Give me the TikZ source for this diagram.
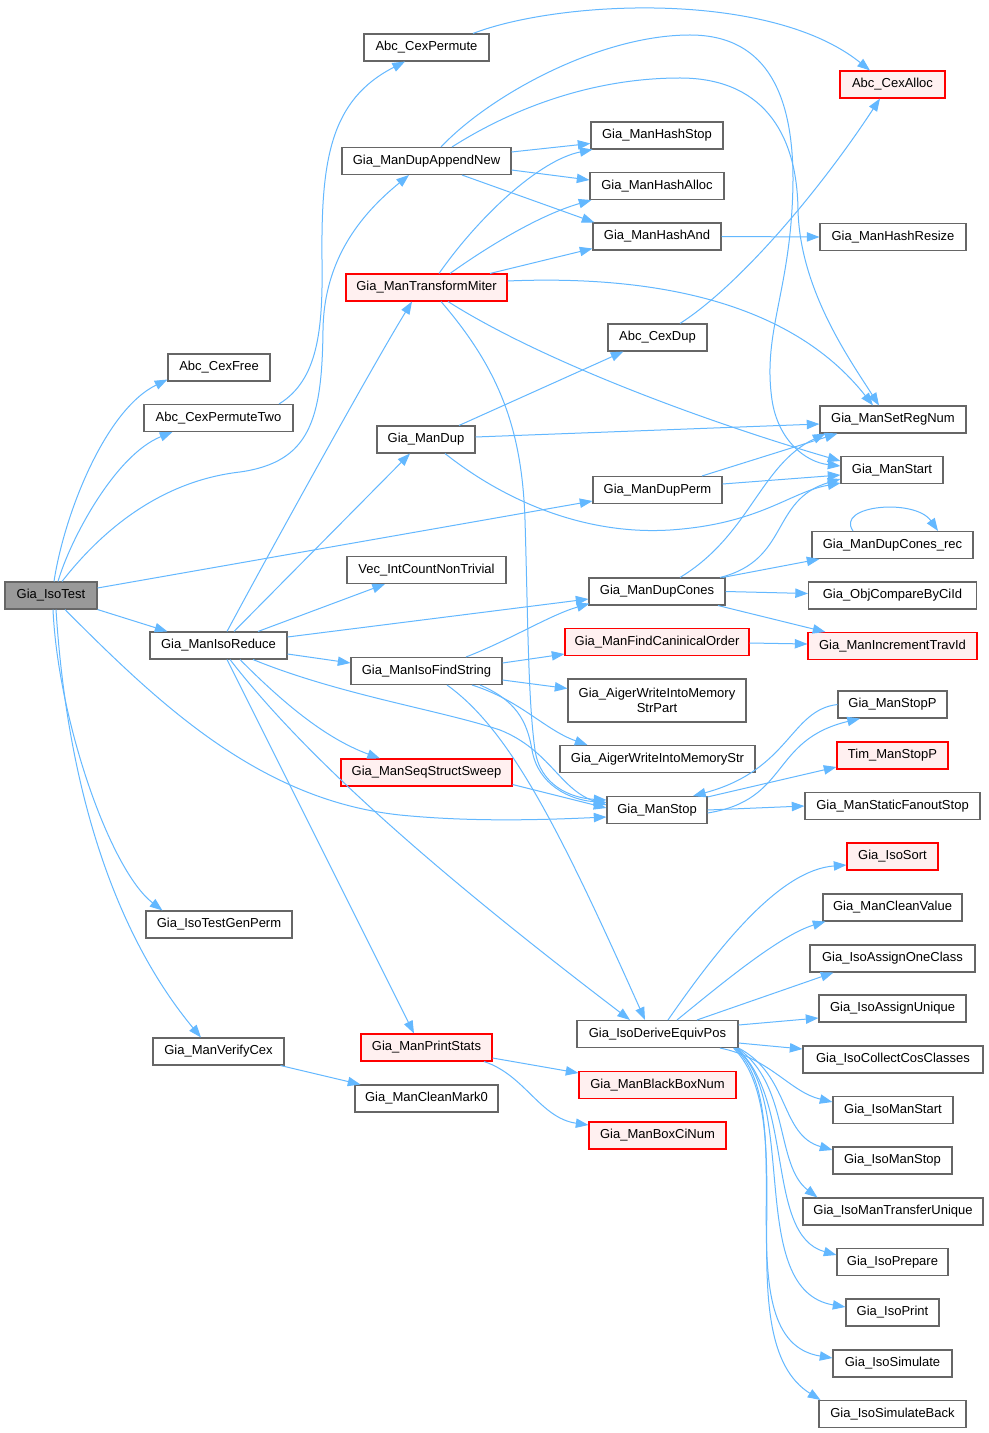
\documentclass[tikz,border=0pt]{standalone}
\usepackage{fontspec}
\setmainfont{Liberation Sans}
\usetikzlibrary{arrows.meta,calc}
\definecolor{edgeblue}{HTML}{63B8FF}
\definecolor{boxgray}{HTML}{666666}
\definecolor{boxred}{HTML}{FF0000}
\definecolor{redfill}{HTML}{FFF0F0}
\definecolor{selfill}{HTML}{999999}
\begin{document}
\begin{tikzpicture}[x=0.75pt,y=-0.75pt,
  fn/.style={draw=boxgray, line width=0.8pt, fill=white, inner sep=0pt, minimum height=27*0.75pt, font=\fontsize{9.75}{11}\selectfont, text=black, align=center},
  wd/.style={minimum width=#1*0.75pt},
  bad/.style={draw=boxred, fill=redfill},
  hl/.style={fill=selfill},
  cn/.style={draw=edgeblue, line width=0.75pt, -{Triangle[length=9.5pt,width=7pt]}}]
\fill[white] (0,0) rectangle (988,1433);
\useasboundingbox (0,0) rectangle (988,1433);
% nodes
\node[fn,wd=92,hl] (IsoTest) at (51,595.5) {Gia\_IsoTest};
\node[fn,wd=125] (CexPermute) at (426.5,47.5) {Abc\_CexPermute};
\node[fn,wd=105,bad] (CexAlloc) at (892.5,84.5) {Abc\_CexAlloc};
\node[fn,wd=169] (DupAppendNew) at (426.5,161) {Gia\_ManDupAppendNew};
\node[fn,wd=132] (HashStop) at (657,135.5) {Gia\_ManHashStop};
\node[fn,wd=134] (HashAlloc) at (657,186) {Gia\_ManHashAlloc};
\node[fn,wd=128] (HashAnd) at (657,236.5) {Gia\_ManHashAnd};
\node[fn,wd=146] (HashResize) at (893,237) {Gia\_ManHashResize};
\node[fn,wd=161,bad] (TransformMiter) at (426.5,287.5) {Gia\_ManTransformMiter};
\node[fn,wd=99] (CexDup) at (657.5,337.5) {Abc\_CexDup};
\node[fn,wd=102] (CexFree) at (219,367.5) {Abc\_CexFree};
\node[fn,wd=149] (CexPermuteTwo) at (218.5,418) {Abc\_CexPermuteTwo};
\node[fn,wd=98] (ManDup) at (426,439.5) {Gia\_ManDup};
\node[fn,wd=146] (SetRegNum) at (893,419.5) {Gia\_ManSetRegNum};
\node[fn,wd=102] (ManStart) at (892,470) {Gia\_ManStart};
\node[fn,wd=129] (DupPerm) at (657.5,490) {Gia\_ManDupPerm};
\node[fn,wd=161] (DupConesRec) at (892.5,545) {Gia\_ManDupCones\_rec};
\node[fn,wd=159] (VecInt) at (426.5,570) {Vec\_IntCountNonTrivial};
\node[fn,wd=136] (DupCones) at (657,591.5) {Gia\_ManDupCones};
\node[fn,wd=168] (ObjCompare) at (892.5,595.5) {Gia\_ObjCompareByCiId};
\node[fn,wd=137] (IsoReduce) at (218.5,645.5) {Gia\_ManIsoReduce};
\node[fn,wd=184,bad] (FindCan) at (657,642) {Gia\_ManFindCaninicalOrder};
\node[fn,wd=169,bad] (IncTrav) at (892.5,646) {Gia\_ManIncrementTravId};
\node[fn,wd=151] (IsoFindString) at (426.5,671) {Gia\_ManIsoFindString};
\node[fn,wd=178,minimum height=43*0.75pt] (AigerPart) at (657,700.5) {Gia\_AigerWriteIntoMemory\\StrPart};
\node[fn,wd=109] (StopP) at (892.5,704.5) {Gia\_ManStopP};
\node[fn,wd=195] (AigerStr) at (657.5,759) {Gia\_AigerWriteIntoMemoryStr};
\node[fn,wd=111,bad] (TimStopP) at (892.5,755.5) {Tim\_ManStopP};
\node[fn,wd=171,bad] (SeqSweep) at (426.5,772.5) {Gia\_ManSeqStructSweep};
\node[fn,wd=100] (ManStop) at (657,810) {Gia\_ManStop};
\node[fn,wd=175] (StaticFanout) at (892.5,806) {Gia\_ManStaticFanoutStop};
\node[fn,wd=91,bad] (IsoSort) at (892.5,856.5) {Gia\_IsoSort};
\node[fn,wd=146] (TestGenPerm) at (219,924.5) {Gia\_IsoTestGenPerm};
\node[fn,wd=139] (CleanValue) at (892.5,907.5) {Gia\_ManCleanValue};
\node[fn,wd=165] (AssignOne) at (892.5,958.5) {Gia\_IsoAssignOneClass};
\node[fn,wd=147] (AssignUnique) at (892.5,1008.5) {Gia\_IsoAssignUnique};
\node[fn,wd=161] (DeriveEquiv) at (657.5,1034) {Gia\_IsoDeriveEquivPos};
\node[fn,wd=131] (VerifyCex) at (218.5,1051.5) {Gia\_ManVerifyCex};
\node[fn,wd=131,bad] (PrintStats) at (426.5,1047.5) {Gia\_ManPrintStats};
\node[fn,wd=180] (CollectCos) at (893,1059.5) {Gia\_IsoCollectCosClasses};
\node[fn,wd=157,bad] (BlackBox) at (657.5,1085) {Gia\_ManBlackBoxNum};
\node[fn,wd=143] (CleanMark0) at (426.5,1098.5) {Gia\_ManCleanMark0};
\node[fn,wd=120] (IsoManStart) at (893,1110) {Gia\_IsoManStart};
\node[fn,wd=137,bad] (BoxCiNum) at (657.5,1135.5) {Gia\_ManBoxCiNum};
\node[fn,wd=119] (IsoManStop) at (892.5,1160.5) {Gia\_IsoManStop};
\node[fn,wd=180] (TransferUnique) at (893,1211.5) {Gia\_IsoManTransferUnique};
\node[fn,wd=111] (IsoPrepare) at (892.5,1262) {Gia\_IsoPrepare};
\node[fn,wd=93] (IsoPrint) at (892.5,1312.5) {Gia\_IsoPrint};
\node[fn,wd=119] (IsoSimulate) at (892.5,1363.5) {Gia\_IsoSimulate};
\node[fn,wd=147] (SimBack) at (892.5,1414) {Gia\_IsoSimulateBack};
% edges from Gia_IsoTest
\draw[cn] ($(IsoTest.north)+(3,0)$) .. controls (64,515) and (105,410) .. ($(CexFree.south west)+(0,-2)$);
\draw[cn] ($(IsoTest.north)+(7,0)$) .. controls (70,540) and (115,455) .. ($(CexPermuteTwo.south west)+(29,0)$);
\draw[cn] ($(IsoTest.north)+(11,0)$) .. controls (110,520) and (170,480) .. (240,472) .. controls (310,462) and (322,420) .. (323,330) .. controls (324,260) and (360,215) .. ($(DupAppendNew.south)+(-17.5,0)$);
\draw[cn] ($(IsoTest.east)+(0,-7.5)$) -- ($(DupPerm.west)+(0,11)$);
\draw[cn] (IsoTest.south east) -- ($(IsoReduce.north west)+(18,0)$);
\draw[cn] ($(IsoTest.south)+(14,0)$) .. controls (160,705) and (260,800) .. (400,815) .. controls (470,822) and (540,820) .. ($(ManStop.west)+(0,7)$);
\draw[cn] ($(IsoTest.south)+(2,0)$) .. controls (58,720) and (110,870) .. ($(TestGenPerm.north west)+(17,0)$);
\draw[cn] ($(IsoTest.south)+(5,0)$) .. controls (68,800) and (120,940) .. ($(VerifyCex.north)+(-17.5,0)$);
% Abc
\draw[cn] ($(CexPermuteTwo.north)+(60.5,0)$) .. controls (318,380) and (323,330) .. (322,260) .. controls (321,160) and (330,100) .. ($(CexPermute.south)+(-21.5,0)$);
\draw[cn] ($(CexPermute.north)+(46.5,0)$) .. controls (560,0) and (770,-10) .. ($(CexAlloc.north)+(-22.5,0)$);
\draw[cn] ($(CexDup.north)+(22.5,0)$) .. controls (740,285) and (820,190) .. ($(CexAlloc.south)+(-12.5,0)$);
% Gia_ManDupAppendNew
\draw[cn] ($(DupAppendNew.east)+(0,-9)$) -- ($(HashStop.west)+(0,8)$);
\draw[cn] ($(DupAppendNew.east)+(0,9)$) -- ($(HashAlloc.west)+(0,-6)$);
\draw[cn] ($(DupAppendNew.south)+(35.5,0)$) -- ($(HashAnd.north west)+(2,0)$);
\draw[cn] ($(DupAppendNew.north)+(14.5,0)$) .. controls (490,95) and (600,35) .. (690,35) .. controls (770,35) and (793,100) .. (793,180) .. controls (792,290) and (762,330) .. (772,400) .. controls (778,440) and (805,462) .. ($(ManStart.west)+(0,-4)$);
\draw[cn] ($(DupAppendNew.north)+(25.5,0)$) .. controls (510,110) and (590,78) .. (680,78) .. controls (760,78) and (797,130) .. (798,210) .. controls (800,290) and (850,360) .. ($(SetRegNum.north)+(-14,0)$);
% Gia_ManTransformMiter
\draw[cn] ($(TransformMiter.north)+(12.5,0)$) .. controls (480,215) and (540,160) .. ($(HashStop.south west)+(2,0)$);
\draw[cn] ($(TransformMiter.north)+(23.5,0)$) .. controls (490,245) and (540,215) .. ($(HashAlloc.south west)+(2,0)$);
\draw[cn] ($(TransformMiter.north)+(63.5,0)$) -- ($(HashAnd.west)+(0,12)$);
\draw[cn] ($(TransformMiter.east)+(0,-6.5)$) .. controls (650,275) and (790,300) .. ($(SetRegNum.north)+(-20,0)$);
\draw[cn] ($(TransformMiter.south)+(21.5,0)$) .. controls (540,360) and (700,420) .. ($(ManStart.west)+(0,-9)$);
\draw[cn] ($(TransformMiter.south)+(14.5,0)$) .. controls (500,370) and (522,430) .. (525,520) .. controls (528,620) and (528,700) .. (535,750) .. controls (540,785) and (570,798) .. ($(ManStop.west)+(0,-10)$);
\draw[cn] (HashAnd.east) -- (HashResize.west);
% Gia_ManDup
\draw[cn] ($(ManDup.north)+(33,0)$) -- ($(CexDup.south west)+(16,0)$);
\draw[cn] ($(ManDup.east)+(0,-2.5)$) -- ($(SetRegNum.west)+(0,4.5)$);
\draw[cn] ($(ManDup.south)+(19,0)$) .. controls (510,505) and (590,535) .. (670,530) .. controls (760,524) and (790,492) .. ($(ManStart.south west)+(0,-1)$);
% Gia_ManDupPerm
\draw[cn] ($(DupPerm.north)+(44.5,0)$) -- ($(SetRegNum.south west)+(18,0)$);
\draw[cn] ($(DupPerm.east)+(0,-6)$) -- ($(ManStart.west)+(0,5)$);
% Gia_ManDupCones
\draw[cn] ($(DupCones.north)+(23,0)$) .. controls (750,535) and (760,465) .. ($(SetRegNum.south west)+(6,0)$);
\draw[cn] ($(DupCones.north)+(63,0)$) .. controls (790,560) and (770,500) .. ($(ManStart.west)+(0,9)$);
\draw[cn] ($(DupCones.north east)+(-3,0)$) -- ($(DupConesRec.south west)+(8,0)$);
\draw[cn] (DupCones.east) -- ($(ObjCompare.west)+(0,-2)$);
\draw[cn] ($(DupCones.south)+(61,0)$) -- ($(IncTrav.north west)+(18,0)$);
\draw[cn] ($(DupConesRec.north)+(-39.5,0)$) .. controls (835,505) and (915,498) .. ($(DupConesRec.north)+(45.5,0)$);
% Gia_ManIsoReduce
\draw[cn] ($(IsoReduce.north)+(8.5,0)$) .. controls (262,566) and (370,370) .. ($(TransformMiter.south)+(-14.5,0)$);
\draw[cn] ($(IsoReduce.north)+(15.5,0)$) -- ($(ManDup.south)+(-16,0)$);
\draw[cn] ($(IsoReduce.north)+(39.5,0)$) -- ($(VecInt.south)+(-41.5,0)$);
\draw[cn] ($(IsoReduce.east)+(0,-8.5)$) -- ($(DupCones.west)+(0,7.5)$);
\draw[cn] ($(IsoReduce.east)+(0,8.5)$) -- ($(IsoFindString.west)+(0,-8)$);
\draw[cn] ($(IsoReduce.south)+(21.5,0)$) .. controls (290,710) and (330,740) .. ($(SeqSweep.north)+(-46.5,0)$);
\draw[cn] ($(IsoReduce.south)+(34.5,0)$) .. controls (340,695) and (440,710) .. (500,730) .. controls (550,750) and (560,790) .. ($(ManStop.west)+(0,-5)$);
\draw[cn] ($(IsoReduce.south)+(11.5,0)$) .. controls (300,750) and (420,860) .. ($(DeriveEquiv.north)+(-27.5,0)$);
\draw[cn] ($(IsoReduce.south)+(8.5,0)$) -- ($(PrintStats.north)+(-12.5,0)$);
\draw[cn] ($(FindCan.east)+(0,1)$) -- ($(IncTrav.west)+(0,-2)$);
% Gia_ManIsoFindString
\draw[cn] ($(IsoFindString.north)+(39.5,0)$) .. controls (510,640) and (550,615) .. ($(DupCones.south west)+(1,-2)$);
\draw[cn] ($(IsoFindString.east)+(0,-8)$) -- ($(FindCan.south west)+(0,-2)$);
\draw[cn] ($(IsoFindString.east)+(0,9)$) -- ($(AigerPart.west)+(0,-12)$);
\draw[cn] ($(IsoFindString.south)+(45.5,0)$) .. controls (520,700) and (545,730) .. ($(AigerStr.north west)+(28,0)$);
\draw[cn] ($(IsoFindString.south)+(53.5,0)$) .. controls (515,700) and (527,720) .. (532,750) .. controls (538,785) and (570,800) .. ($(ManStop.west)+(0,-7.5)$);
\draw[cn] ($(IsoFindString.south)+(20.5,0)$) .. controls (510,730) and (560,830) .. ($(DeriveEquiv.north)+(-12.5,0)$);
\draw[cn] ($(SeqSweep.east)+(0,12)$) -- ($(ManStop.west)+(0,-2)$);
% Gia_ManStop
\draw[cn] ($(ManStop.east)+(0,3)$) .. controls (790,800) and (770,740) .. ($(StopP.south)+(-32.5,0)$);
\draw[cn] (StopP.west) .. controls (790,710) and (790,770) .. ($(ManStop.north)+(36,0)$);
\draw[cn] ($(ManStop.north east)+(0,1)$) -- ($(TimStopP.west)+(0,11.5)$);
\draw[cn] (ManStop.east) -- (StaticFanout.west);
% Gia_IsoDeriveEquivPos
\draw[cn] ($(DeriveEquiv.north)+(10.5,0)$) .. controls (720,945) and (780,870) .. ($(IsoSort.west)+(0,8.5)$);
\draw[cn] ($(DeriveEquiv.north)+(19.5,0)$) .. controls (720,985) and (780,935) .. ($(CleanValue.south west)+(3,0)$);
\draw[cn] ($(DeriveEquiv.north)+(39.5,0)$) -- ($(AssignOne.south west)+(24,0)$);
\draw[cn] ($(DeriveEquiv.east)+(0,-9)$) -- ($(AssignUnique.west)+(0,9.5)$);
\draw[cn] ($(DeriveEquiv.east)+(0,9)$) -- ($(CollectCos.west)+(0,-10.5)$);
\draw[cn] ($(DeriveEquiv.south)+(62.5,0)$) .. controls (770,1058) and (790,1092) .. ($(IsoManStart.west)+(0,-8)$);
\draw[cn] (DeriveEquiv.south east) .. controls (790,1075) and (780,1135) .. ($(IsoManStop.west)+(0,-10.5)$);
\draw[cn] ($(DeriveEquiv.south east)+(-1,0)$) .. controls (790,1085) and (775,1165) .. ($(TransferUnique.north west)+(15,0)$);
\draw[cn] ($(DeriveEquiv.south east)+(-2,0)$) .. controls (795,1100) and (765,1235) .. ($(IsoPrepare.west)+(0,-7)$);
\draw[cn] ($(DeriveEquiv.south east)+(-3,0)$) .. controls (800,1100) and (745,1290) .. ($(IsoPrint.west)+(0,-5.5)$);
\draw[cn] ($(DeriveEquiv.south east)+(-4,0)$) .. controls (805,1110) and (720,1340) .. ($(IsoSimulate.west)+(0,-5.5)$);
\draw[cn] ($(DeriveEquiv.south east)+(-5,0)$) .. controls (805,1120) and (725,1340) .. ($(SimBack.north west)+(2,0)$);
% Gia_ManPrintStats, Gia_ManVerifyCex
\draw[cn] ($(PrintStats.east)+(0,10.5)$) -- ($(BlackBox.west)+(0,-12)$);
\draw[cn] ($(PrintStats.south)+(57.5,0)$) .. controls (525,1075) and (540,1118) .. ($(BoxCiNum.west)+(0,-10.5)$);
\draw[cn] ($(VerifyCex.south east)+(-4,0)$) -- ($(CleanMark0.north west)+(6,0)$);
\end{tikzpicture}
\end{document}
